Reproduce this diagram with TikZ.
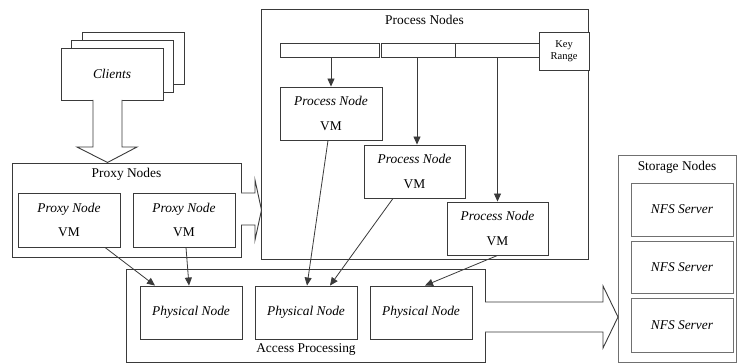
\documentclass[tikz,border=0pt]{standalone}
\usepackage{fontspec}
\setmainfont{Liberation Serif}
\usetikzlibrary{arrows.meta,calc}
\definecolor{ink}{HTML}{3A3A3A}
\definecolor{pale}{HTML}{707070}
\tikzset{
  base/.style={font=\fontsize{13.4pt}{15.6pt}\selectfont, text=black},
  box/.style={base, draw=ink, line width=0.9pt, fill=white, inner sep=0pt, align=center},
  title/.style={base, anchor=north, inner sep=0pt},
  link/.style={draw=ink, line width=0.8pt, -{Triangle[length=8pt,width=7pt]}},
  fat/.style={draw=ink, line width=0.9pt, fill=white, line join=miter},
}
\begin{document}
\begin{tikzpicture}[x=1pt,y=-1pt]
\useasboundingbox (0,0) rectangle (738,363);
\clip (0,0) rectangle (738,363);

% ---- clients (stacked cards)
\node[box, minimum width=102pt, minimum height=52pt] (cl3) at (133,58) {};
\node[box, minimum width=102pt, minimum height=52pt] (cl2) at (122,66) {};
\node[box, minimum width=102pt, minimum height=52pt] (cl1) at (112,74) {\textit{Clients}};

% ---- proxy nodes
\node[box, minimum width=229pt, minimum height=94pt] (proxy) at (126.5,210) {};
\node[title] (proxyT) at ($(proxy.north)+(0,5)$) {Proxy Nodes};
\node[box, minimum width=102pt, minimum height=54pt] (px1) at (69,220) {\textit{Proxy Node}\\[9pt]VM};
\node[box, minimum width=102pt, minimum height=54pt] (px2) at (184,220) {\textit{Proxy Node}\\[9pt]VM};

% block arrow: clients -> proxy nodes
\draw[fat] (93,100) -- (93,147) -- (77,147) -- (107.5,162.5) -- (137,147) -- (122,147) -- (122,100);

% ---- process nodes
\node[box, minimum width=327pt, minimum height=250pt] (proc) at (424.5,134) {};
\node[title] (procT) at ($(proc.north)+(0,6)$) {Process Nodes};
\node[box, minimum width=99pt, minimum height=14pt] (seg1) at (329.5,50) {};
\node[box, minimum width=74pt, minimum height=14pt] (seg2) at (418,50) {};
\node[box, minimum width=84pt, minimum height=14pt] (seg3) at (497,50) {};
\node[box, minimum width=50pt, minimum height=38pt, font=\fontsize{10.5pt}{12pt}\selectfont] (key) at (564,51) {Key\\Range};
\node[box, minimum width=102pt, minimum height=53pt] (pn1) at (331,113.5) {\textit{Process Node}\\[9pt]VM};
\node[box, minimum width=101pt, minimum height=53pt] (pn2) at (414.5,171.5) {\textit{Process Node}\\[9pt]VM};
\node[box, minimum width=101pt, minimum height=53pt] (pn3) at (497.5,228.5) {\textit{Process Node}\\[9pt]VM};

% block arrow: proxy nodes -> process nodes
\draw[fat] (241,193) -- (255,193) -- (255,180) -- (261.5,210) -- (255,240) -- (255,225) -- (241,225);

% ---- access processing
\node[box, minimum width=359pt, minimum height=93pt] (acc) at (305.5,315.5) {};
\node[base, inner sep=0pt] (accT) at (306,350) {Access Processing};
\node[box, minimum width=102pt, minimum height=53pt] (ph1) at (191,312.5) {\textit{Physical Node}};
\node[box, minimum width=102pt, minimum height=53pt] (ph2) at (306,312.5) {\textit{Physical Node}};
\node[box, minimum width=102pt, minimum height=53pt] (ph3) at (421,312.5) {\textit{Physical Node}};

% ---- storage nodes
\node[box, draw=pale, minimum width=118pt, minimum height=207pt] (stor) at (677,258.5) {};
\node[title] (storT) at ($(stor.north)+(0,6)$) {Storage Nodes};
\node[box, draw=pale, minimum width=102pt, minimum height=53pt] (nfs1) at (682,209.5) {\textit{NFS Server}};
\node[box, draw=pale, minimum width=102pt, minimum height=52pt] (nfs2) at (682,267) {\textit{NFS Server}};
\node[box, draw=pale, minimum width=102pt, minimum height=54pt] (nfs3) at (682,325) {\textit{NFS Server}};

% block arrow: access processing -> storage nodes
\draw[fat] (485,302) -- (603,302) -- (603,286) -- (618,317) -- (603,348) -- (603,332) -- (485,332);

% ---- key range to process nodes
\draw[link] (seg1.south -| pn1.north) -- (pn1.north);
\draw[link] ([xshift=-1pt]seg2.south) -- ([xshift=-1pt]seg2.south |- pn2.north);
\draw[link] (seg3.south -| pn3.north) -- (pn3.north);

% ---- virtual machines to physical nodes
\draw[link] ([xshift=36pt]px1.south) -- ([xshift=-36pt]ph1.north);
\draw[link] ([xshift=2pt]px2.south) -- ([xshift=-2pt]ph1.north);
\draw[link] ([xshift=-3pt]pn1.south) -- ([xshift=1pt]ph2.north);
\draw[link] ([xshift=-21.5pt]pn2.south) -- ([xshift=24pt]ph2.north);
\draw[link] (pn3.south) -- ([xshift=4pt]ph3.north);
\end{tikzpicture}
\end{document}
